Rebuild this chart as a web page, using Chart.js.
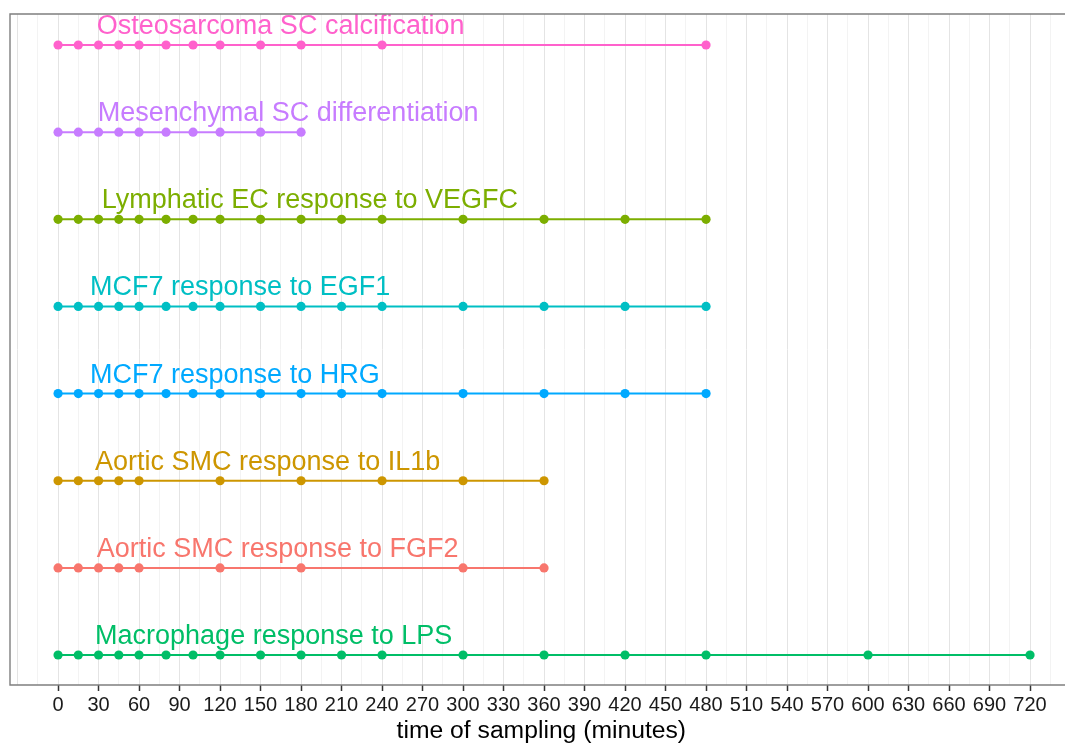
<!DOCTYPE html>
<html><head><meta charset="utf-8">
<script src="https://cdn.jsdelivr.net/npm/chart.js@4.4.1/dist/chart.umd.min.js"></script>
<style>html,body{margin:0;padding:0;background:#fff;overflow:hidden}#wrap{width:1065px;height:744px}</style>
</head><body><div id="wrap"><canvas id="c" width="1065" height="744"></canvas></div>
<script>
// ---- data ----
const categories = [
  "Macrophage response to LPS",
  "Aortic SMC response to FGF2",
  "Aortic SMC response to IL1b",
  "MCF7 response to HRG",
  "MCF7 response to EGF1",
  "Lymphatic EC response to VEGFC",
  "Mesenchymal SC differentiation",
  "Osteosarcoma SC calcification"
];
const macrophageTimes  = [0,15,30,45,60,80,100,120,150,180,210,240,300,360,420,480,600,720];
const fgf2Times        = [0,15,30,45,60,120,180,300,360];
const il1bTimes        = [0,15,30,45,60,120,180,240,300,360];
const hrgTimes         = [0,15,30,45,60,80,100,120,150,180,210,240,300,360,420,480];
const egf1Times        = [0,15,30,45,60,80,100,120,150,180,210,240,300,360,420,480];
const vegfcTimes       = [0,15,30,45,60,80,100,120,150,180,210,240,300,360,420,480];
const mesenchymalTimes = [0,15,30,45,60,80,100,120,150,180];
const osteoTimes       = [0,15,30,45,60,80,100,120,150,180,240,480];
const seriesTimes = [macrophageTimes, fgf2Times, il1bTimes, hrgTimes, egf1Times, vegfcTimes, mesenchymalTimes, osteoTimes];
// where each text label starts (minutes)
const labelStart = [27.4, 28.7, 27.4, 23.7, 23.7, 32.4, 29.4, 28.7];
const xTickLabels = [0,30,60,90,120,150,180,210,240,270,300,330,360,390,420,450,480,510,540,570,600,630,660,690,720];
const xAxisTitle = "time of sampling (minutes)";

// ---- styles ----
const seriesColors = ["#00BE67","#F8766D","#CD9600","#00A9FF","#00BFC4","#7CAE00","#C77CFF","#FF61CC"];
const FONT = "'Liberation Sans', Arial, Helvetica, sans-serif";

const datasets = categories.map((name, i) => ({
  label: name,
  data: seriesTimes[i].map(t => ({x: t, y: i + 1})),
  borderColor: seriesColors[i],
  backgroundColor: seriesColors[i],
  pointBackgroundColor: seriesColors[i],
  borderWidth: 2,
  pointRadius: 4.6,
  pointBorderWidth: 0,
  pointHoverRadius: 4.6,
  tension: 0,
  fill: false
}));

const panelPlugin = {
  id: 'panel',
  afterDatasetsDraw(chart) {
    const {ctx, chartArea: a, scales: {x, y}} = chart;
    ctx.save();
    ctx.font = "27px " + FONT;
    ctx.textAlign = 'left';
    ctx.textBaseline = 'alphabetic';
    categories.forEach((name, i) => {
      ctx.fillStyle = seriesColors[i];
      ctx.fillText(name, x.getPixelForValue(labelStart[i]), y.getPixelForValue(i + 1) - 11);
    });
    ctx.strokeStyle = '#7f7f7f';
    ctx.lineWidth = 1.4;
    ctx.beginPath();
    ctx.moveTo(a.right + 5, a.top);
    ctx.lineTo(a.left, a.top);
    ctx.lineTo(a.left, a.bottom);
    ctx.lineTo(a.right + 5, a.bottom);
    ctx.stroke();
    // axis title, centred on the (cropped) panel
    ctx.fillStyle = '#000';
    ctx.font = "24.7px " + FONT;
    ctx.textAlign = 'center';
    ctx.textBaseline = 'middle';
    ctx.fillText(xAxisTitle, x.getPixelForValue(358), chart.height - 12.4);
    ctx.restore();
  }
};

new Chart(document.getElementById('c'), {
  type: 'line',
  data: { datasets },
  plugins: [panelPlugin],
  options: {
    responsive: false,
    animation: false,
    devicePixelRatio: 1,
    layout: { autoPadding: false, padding: { left: 10, right: 0, top: 14, bottom: 0 } },
    plugins: { legend: { display: false }, tooltip: { enabled: false } },
    scales: {
      x: {
        type: 'linear',
        min: -35.6,
        max: 745.9,
        afterBuildTicks(scale) {
          const t = [];
          for (let v = -30; v <= 735; v += 15) t.push({value: v});
          scale.ticks = t;
        },
        afterFit(scale) {
          scale.height = 59;
          scale.paddingLeft = 0;
          scale.paddingRight = 0;
        },
        ticks: {
          autoSkip: false,
          maxRotation: 0,
          padding: 2,
          color: '#1a1a1a',
          font: { family: FONT, size: 20 },
          callback: (v) => xTickLabels.includes(v) ? String(v) : ''
        },
        grid: {
          drawOnChartArea: true,
          tickLength: 6,
          lineWidth: 1,
          color: (c) => (c.tick && c.tick.value % 30 === 0) ? '#e4e4e4' : '#f3f3f3',
          tickColor: (c) => (c.tick && xTickLabels.includes(c.tick.value)) ? '#333333' : 'rgba(0,0,0,0)',
          tickWidth: 1.5
        },
        border: { display: false },
        title: { display: false }
      },
      y: {
        type: 'linear',
        display: false,
        min: 0.656,
        max: 8.356
      }
    }
  }
});
</script>
</body></html>
